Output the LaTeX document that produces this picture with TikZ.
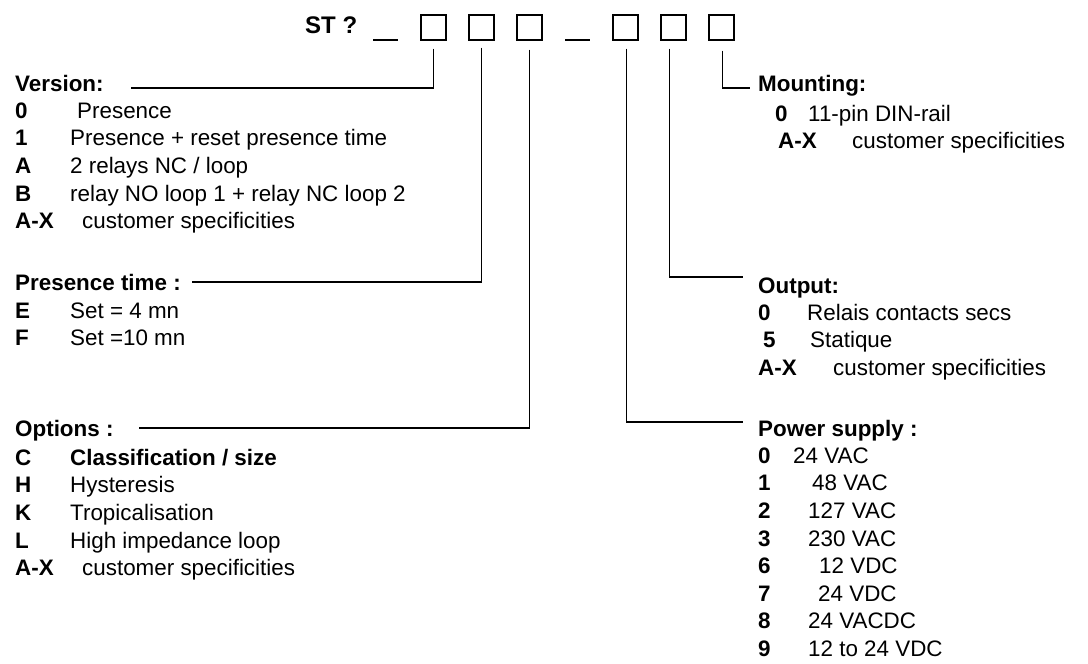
\documentclass[tikz,border=0pt]{standalone}
\usepackage{fontspec}
\setmainfont{Liberation Sans}
\usetikzlibrary{positioning}
\tikzset{
  cell/.style ={draw, line width=1.3pt, minimum size=25pt, inner sep=0pt},
  hdr/.style  ={font=\bfseries, inner sep=0pt, anchor=base west,
                text height=16pt, text depth=0pt},
  items/.style={inner sep=0pt, anchor=north west, align=left},
  conn/.style ={line width=1.3pt},
}
\newcommand{\optline}[3]{\makebox[#1][l]{\textbf{#2}}#3}

\begin{document}
\fontsize{22.4}{27.6}\selectfont
\begin{tikzpicture}[x=1pt, y=-1pt]
  \useasboundingbox (0,0) rectangle (1088,664);
  % order code
  \node[hdr, font=\fontsize{24}{28}\selectfont\bfseries] (st) at (305,33) {ST ?};
  \draw[conn] (373,40) -- (398,40);
  \node[cell] (b1) at (433.5,27.5) {};
  \node[cell] (b2) at (481.5,27.5) {};
  \node[cell] (b3) at (529.5,27.5) {};
  \draw[conn] (565,40) -- (590,40);
  \node[cell] (b4) at (625.5,27.5) {};
  \node[cell] (b5) at (673.5,27.5) {};
  \node[cell] (b6) at (721.5,27.5) {};
  % left column
  \node[hdr] (ver) at (15,91) {Version:};
  \node[items] (verlist) at (15,98.7) {\strut\optline{62pt}{0}{Presence}\\
    \optline{55pt}{1}{Presence + reset presence time}\\
    \optline{55pt}{A}{2 relays NC / loop}\\
    \optline{55pt}{B}{relay NO loop 1 + relay NC loop 2}\\
    \optline{67pt}{A-X}{customer specificities}};
  \node[hdr] (pres) at (15,290) {Presence time :};
  \node[items] (preslist) at (15,298.7) {\strut\optline{55pt}{E}{Set = 4 mn}\\
    \optline{55pt}{F}{Set =10 mn}};
  \node[hdr] (opt) at (15,436) {Options :};
  \node[items] (optlist) at (15,445.7) {\strut\optline{55pt}{C}{\textbf{Classification / size}}\\
    \optline{55pt}{H}{Hysteresis}\\
    \optline{55pt}{K}{Tropicalisation}\\
    \optline{55pt}{L}{High impedance loop}\\
    \optline{67pt}{A-X}{customer specificities}};
  % right column
  \node[hdr] (mount) at (758,91) {Mounting:};
  \node[items] (mountlist) at (758,101.7) {\strut\hspace*{17pt}\optline{33pt}{0}{11-pin DIN-rail}\\
    \hspace*{20pt}\optline{74pt}{A-X}{customer specificities}};
  \node[hdr] (outp) at (758,293) {Output:};
  \node[items] (outplist) at (758,300.7) {\strut\optline{49pt}{0}{Relais contacts secs}\\
    \hspace*{5pt}\optline{47pt}{5}{Statique}\\
    \optline{75pt}{A-X}{customer specificities}};
  \node[hdr] (pwr) at (758,436) {Power supply :};
  \node[items] (pwrlist) at (758,443.7) {\strut\optline{35pt}{0}{24 VAC}\\
    \optline{54pt}{1}{48 VAC}\\
    \optline{50pt}{2}{127 VAC}\\
    \optline{50pt}{3}{230 VAC}\\
    \optline{61pt}{6}{12 VDC}\\
    \optline{60pt}{7}{24 VDC}\\
    \optline{50pt}{8}{24 VACDC}\\
    \optline{50pt}{9}{12 to 24 VDC}};
  % leaders from the code cells
  \draw[conn] ([yshift=-8pt]b1.south) |- ([xshift=27pt,yshift=-5pt]ver.east);
  \draw[conn] ([yshift=-7pt]b2.south) |- ([xshift=11pt]pres.east);
  \draw[conn] ([yshift=-9pt]b3.south) |- ([xshift=25pt]opt.east);
  \draw[conn] ([xshift=1pt,yshift=-8pt]b4.south) |- ([xshift=-15pt,yshift=6pt]pwr.west);
  \draw[conn] ([xshift=-4pt,yshift=-8pt]b5.south) |- ([xshift=-15pt,yshift=8pt]outp.west);
  \draw[conn] ([xshift=1pt,yshift=-10pt]b6.south) |- ([xshift=-8pt,yshift=-5pt]mount.west);
\end{tikzpicture}
\end{document}
